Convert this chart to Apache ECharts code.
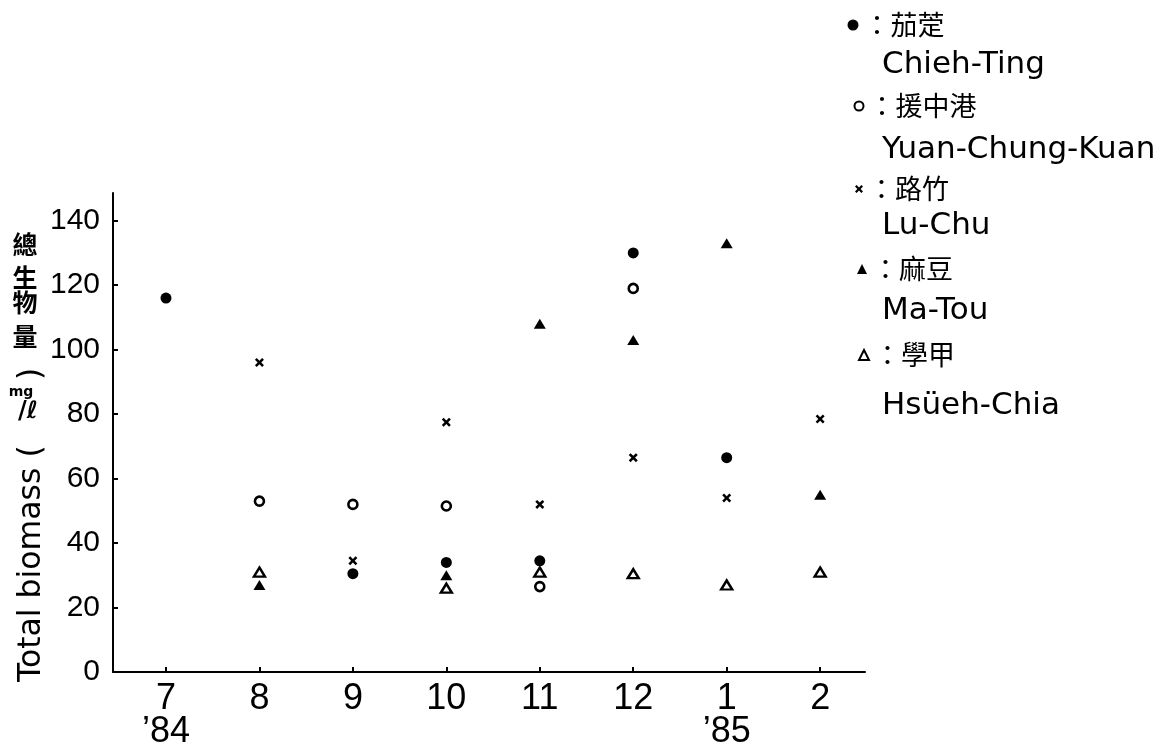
<!DOCTYPE html>
<html>
<head>
<meta charset="utf-8">
<script src="https://cdn.jsdelivr.net/npm/echarts@6/dist/echarts.min.js"></script>
<style>
html,body{margin:0;padding:0;background:#fff;}
#chart{width:1170px;height:755px;}
</style>
</head>
<body>
<div id="chart"></div>
<script>
// ---- data ----
const months = ['7', '8', '9', '10', '11', '12', '1', '2'];
const yearTags = ['\u201984', '', '', '', '', '', '\u201985', ''];
const yTicks = [0, 20, 40, 60, 80, 100, 120, 140];

const seriesNamesCn = ['茄萣', '援中港', '路竹', '麻豆', '學甲'];
const seriesNamesEn = ['Chieh-Ting', 'Yuan-Chung-Kuan', 'Lu-Chu', 'Ma-Tou', 'Hsüeh-Chia'];

const chiehTing = [116, null, 30.5, 34, 34.5, 130, 66.5, null];
const yuanChungKuan = [null, 53, 52, 51.5, 26.5, 119, null, null];
const luChu = [null, 96, 34.5, 77.5, 52, 66.5, 54, 78.5];
const maTou = [null, 27, null, 30, 108, 103, 133, 55];
const hsuehChia = [null, 31, null, 26, 31, 30.5, 27, 31];

// ---- chart ----
const chart = echarts.init(document.getElementById('chart'), null, {renderer: 'canvas'});

function toPoints(arr) {
  const out = [];
  arr.forEach((v, i) => { if (v !== null) out.push([i, v]); });
  return out;
}

const crossPath = 'path://M0,2L2,0L5,3L8,0L10,2L7,5L10,8L8,10L5,7L2,10L0,8L3,5Z';

const styles = [
  {symbol: 'circle', size: 11, item: {color: '#000', opacity: 1}, legendSize: 11},
  {symbol: 'circle', size: 9, item: {color: '#fff', borderColor: '#000', borderWidth: 2.6, opacity: 1}, legendSize: 9},
  {symbol: crossPath, size: 9, item: {color: '#000', opacity: 1}, legendSize: 8},
  {symbol: 'triangle', size: [12, 10], item: {color: '#000', opacity: 1}, legendSize: 10},
  {symbol: 'triangle', size: [11, 9], item: {color: '#fff', borderColor: '#000', borderWidth: 2.4, opacity: 1}, legendSize: 10}
];
const dataSets = [chiehTing, yuanChungKuan, luChu, maTou, hsuehChia];

const series = dataSets.map((d, i) => ({
  name: seriesNamesEn[i],
  type: 'scatter',
  data: toPoints(d),
  symbol: styles[i].symbol,
  symbolSize: styles[i].size,
  itemStyle: styles[i].item,
  emphasis: {disabled: true}
}));

// legend rows (centre y, icon centre x)
const legendRows = [
  {cy: 25, ix: 853},
  {cy: 106, ix: 858},
  {cy: 189, ix: 859},
  {cy: 269, ix: 862},
  {cy: 355, ix: 863}
];
const enRowsY = [67, 152, 228, 313, 408];

const legends = seriesNamesEn.map((n, i) => ({
  data: [n],
  selectedMode: false,
  orient: 'vertical',
  left: legendRows[i].ix - styles[i].legendSize / 2,
  top: legendRows[i].cy - 15,
  padding: 0,
  itemWidth: styles[i].legendSize,
  itemHeight: styles[i].legendSize,
  itemStyle: {opacity: 1},
  formatter: () => '：' + seriesNamesCn[i],
  textStyle: {fontFamily: 'Noto Sans CJK TC', fontSize: 27, color: '#000', lineHeight: 30}
}));

const graphics = [];
seriesNamesEn.forEach((n, i) => {
  graphics.push({
    type: 'text', left: 882, top: enRowsY[i] - 18,
    style: {text: n, fontFamily: 'DejaVu Sans', fontSize: 31, fill: '#000'}
  });
});
// y-axis title: rotated english
graphics.push({
  type: 'text', x: 32, y: 682, rotation: Math.PI / 2,
  style: {text: 'Total biomass (', fontFamily: 'DejaVu Sans', fontSize: 31.5, fill: '#000',
          textAlign: 'left', textVerticalAlign: 'middle'}
});
graphics.push({
  type: 'text', x: 32, y: 380, rotation: Math.PI / 2,
  style: {text: ')', fontFamily: 'DejaVu Sans', fontSize: 31.5, fill: '#000',
          textAlign: 'left', textVerticalAlign: 'middle'}
});
graphics.push({
  type: 'text', x: 21, y: 392,
  style: {text: 'mg', fontFamily: 'DejaVu Sans', fontSize: 14, fontWeight: 'bold', fill: '#000',
          textAlign: 'center', textVerticalAlign: 'middle'}
});
graphics.push({
  type: 'text', x: 28, y: 412,
  style: {text: '/ℓ', fontFamily: 'DejaVu Sans', fontSize: 24, fontWeight: 'bold', fill: '#000',
          textAlign: 'center', textVerticalAlign: 'middle'}
});
const cnTitle = ['總', '生', '物', '量'];
const cnTitleY = [244, 277, 302, 336];
cnTitle.forEach((c, i) => {
  graphics.push({
    type: 'text', x: 25, y: cnTitleY[i],
    style: {text: c, fontFamily: 'Noto Sans CJK TC', fontSize: 25, fontWeight: 'bold', fill: '#000',
            textAlign: 'center', textVerticalAlign: 'middle'}
  });
});

const option = {
  backgroundColor: '#fff',
  animation: false,
  grid: {left: 113, right: 305, top: 193, bottom: 83, containLabel: false, outerBoundsMode: 'none'},
  xAxis: {
    type: 'value',
    min: -0.567,
    max: 7.48,
    splitLine: {show: false},
    axisLine: {onZero: false, lineStyle: {color: '#000', width: 2}},
    axisTick: {inside: true, length: 5, lineStyle: {color: '#000', width: 2},
               customValues: months.map((m, i) => i)},
    axisLabel: {
      customValues: months.map((m, i) => i),
      margin: 11,
      color: '#000',
      fontFamily: 'Liberation Sans Narrow, Liberation Sans',
      fontSize: 36,
      lineHeight: 33,
      formatter: (v) => {
        const i = Math.round(v);
        return months[i] + (yearTags[i] ? '\n' + yearTags[i] : '');
      }
    }
  },
  yAxis: {
    type: 'value',
    min: 0,
    max: 148.6,
    splitLine: {show: false},
    axisLine: {onZero: false, lineStyle: {color: '#000', width: 2}},
    axisTick: {inside: true, length: 5, lineStyle: {color: '#000', width: 2}, customValues: yTicks},
    axisLabel: {
      customValues: yTicks,
      margin: 13,
      color: '#000',
      fontFamily: 'Liberation Sans',
      fontSize: 30
    }
  },
  legend: legends,
  graphic: graphics,
  series: series
};
chart.setOption(option);
</script>
</body>
</html>
